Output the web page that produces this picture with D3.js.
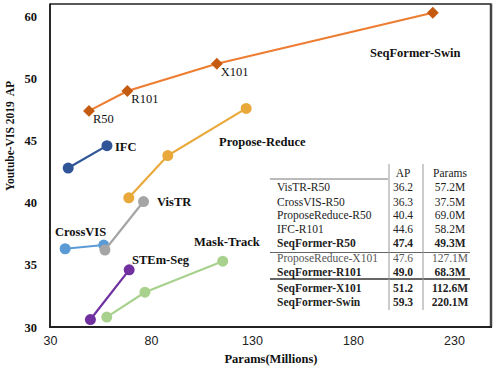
<!DOCTYPE html>
<html>
<head>
<meta charset="utf-8">
<script src="https://cdn.jsdelivr.net/npm/d3@7"></script>
<style>
  body { margin: 0; background: #fff; }
  svg text { font-family: "Liberation Serif", "Times New Roman", serif; }
</style>
</head>
<body>
<div id="chart"></div>
<script>
// y axis is broken above 50: tick "60" sits where 55 would be, swin point plotted there
const yTickValues = [30, 35, 40, 45, 50, 55];
const yTickLabels = ["30", "35", "40", "45", "50", "60"];
const xTickValues = [30, 80, 130, 180, 230];

// params (M), AP as drawn
const seqformerParams = [49.3, 68.3, 112.6, 219.5];
const seqformerAP = [47.4, 49.0, 51.2, 55.3];
const seqformerTags = ["R50", "R101", "X101", ""];
const ifcParams = [39.0, 58.2];
const ifcAP = [42.8, 44.6];
const proposeParams = [69.0, 88.3, 127.1];
const proposeAP = [40.4, 43.8, 47.6];
const vistrParams = [57.2, 76.3];
const vistrAP = [36.2, 40.1];
const crossvisParams = [37.5, 56.6];
const crossvisAP = [36.3, 36.6];
const stemParams = [50.0, 69.2];
const stemAP = [30.6, 34.6];
const maskParams = [58.1, 77.0, 115.5];
const maskAP = [30.8, 32.8, 35.3];

// table
const tableNames = ["VisTR-R50", "CrossVIS-R50", "ProposeReduce-R50", "IFC-R101", "SeqFormer-R50",
  "ProposeReduce-X101", "SeqFormer-R101", "SeqFormer-X101", "SeqFormer-Swin"];
const tableAP = ["36.2", "36.3", "40.4", "44.6", "47.4", "47.6", "49.0", "51.2", "59.3"];
const tableParams = ["57.2M", "37.5M", "69.0M", "58.2M", "49.3M", "127.1M", "68.3M", "112.6M", "220.1M"];
const tableBold = [false, false, false, false, true, false, true, true, true];

const W = 498, H = 368;
const svg = d3.select("#chart").append("svg").attr("width", W).attr("height", H);

const x = d3.scaleLinear().domain([30, 230]).range([50, 454]);
const y = d3.scaleLinear().domain([30, 55]).range([327, 16.5]);

// frame
svg.append("line").attr("x1", 50).attr("x2", 491).attr("y1", 4).attr("y2", 4)
  .attr("stroke", "#222").attr("stroke-width", 1.5);
svg.append("line").attr("x1", 491).attr("x2", 491).attr("y1", 3.5).attr("y2", 327)
  .attr("stroke", "#444").attr("stroke-width", 2.5);

// axes
const yAxis = svg.append("g").attr("transform", "translate(50,0)")
  .call(d3.axisLeft(y).tickValues(yTickValues).tickSize(0).tickPadding(13)
    .tickFormat((d, i) => yTickLabels[i]));
yAxis.select(".domain").attr("stroke", "#111").attr("stroke-width", 1.8).attr("d", "M0,3.5V327");
yAxis.selectAll("text").style("font-family", "Liberation Serif").style("font-weight", "bold")
  .style("font-size", "12.5px").attr("fill", "#111");

const xAxis = svg.append("g").attr("transform", "translate(0,327)")
  .call(d3.axisBottom(x).tickValues(xTickValues).tickSize(0).tickPadding(9));
xAxis.select(".domain").attr("stroke", "#222").attr("stroke-width", 2.2).attr("d", "M49,0H492");
xAxis.selectAll("text").style("font-family", "Liberation Sans").style("font-size", "12.5px")
  .attr("fill", "#222");

// titles
svg.append("text").attr("transform", "translate(14,136) rotate(-90)")
  .attr("text-anchor", "middle").style("font-weight", "bold").style("font-size", "11.5px")
  .attr("fill", "#111").attr("xml:space", "preserve").text("Youtube-VIS 2019  AP");
svg.append("text").attr("x", 271).attr("y", 363).attr("text-anchor", "middle")
  .style("font-weight", "bold").style("font-size", "12.5px").attr("fill", "#111")
  .text("Params(Millions)");

const line = d3.line().x(d => x(d[0])).y(d => y(d[1]));
function series(params, ap, color, markColor, diamond) {
  const pts = params.map((p, i) => [p, ap[i]]);
  svg.append("path").datum(pts).attr("d", line).attr("fill", "none")
    .attr("stroke", color).attr("stroke-width", 2.2);
  if (diamond) {
    svg.selectAll(null).data(pts).enter().append("path")
      .attr("d", d3.symbol().type(d3.symbolDiamond2).size(90))
      .attr("transform", d => `translate(${x(d[0])},${y(d[1])})`)
      .attr("fill", markColor);
  } else {
    svg.selectAll(null).data(pts).enter().append("circle")
      .attr("cx", d => x(d[0])).attr("cy", d => y(d[1])).attr("r", 5.5)
      .attr("fill", markColor);
  }
  return pts;
}

series(maskParams, maskAP, "#a9d18e", "#a9d18e");
series(stemParams, stemAP, "#7030a0", "#7030a0");
series(crossvisParams, crossvisAP, "#5b9bd5", "#5b9bd5");
series(vistrParams, vistrAP, "#a5a5a5", "#a5a5a5");
series(proposeParams, proposeAP, "#e9a93a", "#e9a93a");
series(ifcParams, ifcAP, "#2f5597", "#2f5597");
const seqPts = series(seqformerParams, seqformerAP, "#ed7d31", "#c55a11", true);

// small tags on SeqFormer points
svg.selectAll(null).data(seqPts).enter().append("text")
  .attr("x", d => x(d[0]) + 4).attr("y", d => y(d[1]) + 12)
  .style("font-size", "12.5px").attr("fill", "#111")
  .text((d, i) => seqformerTags[i]);

// method labels
const labels = [
  ["SeqFormer-Swin", 370, 57], ["IFC", 115, 151], ["Propose-Reduce", 219, 146],
  ["VisTR", 157, 206], ["CrossVIS", 55, 236], ["STEm-Seg", 132, 264], ["Mask-Track", 194, 246]
];
svg.selectAll(null).data(labels).enter().append("text")
  .attr("x", d => d[1]).attr("y", d => d[2])
  .style("font-weight", "bold").style("font-size", "12.5px").attr("fill", "#111")
  .text(d => d[0]);

// table
const rowY = [187, 201.5, 215, 229, 243, 258, 272, 288, 302];
const tbl = svg.append("g");
tbl.append("text").attr("x", 403).attr("y", 177).attr("text-anchor", "middle")
  .style("font-size", "11.5px").attr("fill", "#222").text("AP");
tbl.append("text").attr("x", 450).attr("y", 177).attr("text-anchor", "middle")
  .style("font-size", "11.5px").attr("fill", "#222").text("Params");
tbl.append("line").attr("x1", 270).attr("x2", 388).attr("y1", 179).attr("y2", 179)
  .attr("stroke", "#777").attr("stroke-width", 1);
tbl.append("line").attr("x1", 270).attr("x2", 470).attr("y1", 252.5).attr("y2", 252.5)
  .attr("stroke", "#666").attr("stroke-width", 1);
tbl.append("line").attr("x1", 270).attr("x2", 470).attr("y1", 279).attr("y2", 279)
  .attr("stroke", "#333").attr("stroke-width", 1.5);
[389, 423].forEach(vx => tbl.append("line").attr("x1", vx).attr("x2", vx)
  .attr("y1", 164).attr("y2", 310).attr("stroke", "#999").attr("stroke-width", 1));

tableNames.forEach((name, i) => {
  const fw = tableBold[i] ? "bold" : "normal";
  const col = i === 5 ? "#555" : "#222";
  tbl.append("text").attr("x", 277).attr("y", rowY[i] + 4).style("font-size", "11.5px")
    .style("font-weight", fw).attr("fill", col).text(name);
  tbl.append("text").attr("x", 403).attr("y", rowY[i] + 4).attr("text-anchor", "middle")
    .style("font-size", "11.5px").style("font-weight", fw).attr("fill", col).text(tableAP[i]);
  tbl.append("text").attr("x", 450).attr("y", rowY[i] + 4).attr("text-anchor", "middle")
    .style("font-size", "11.5px").style("font-weight", fw).attr("fill", col).text(tableParams[i]);
});
</script>
</body>
</html>
